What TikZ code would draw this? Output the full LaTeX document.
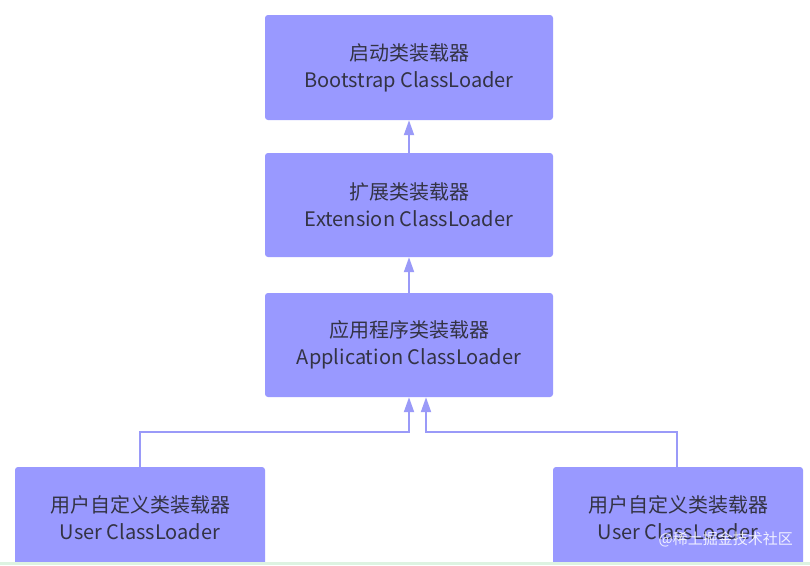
\documentclass[tikz,border=0pt]{standalone}
\usepackage{fontspec}
\setmainfont{Noto Sans CJK SC}
\usetikzlibrary{arrows.meta}
\definecolor{boxfill}{HTML}{9999FF}
\definecolor{linecol}{HTML}{9A9AF8}
\definecolor{txt}{HTML}{333344}
\definecolor{strip}{HTML}{DDF3E1}
\tikzset{
  loader/.style={draw=none, fill=boxfill, rounded corners=3pt, text=txt,
    align=center, font=\fontsize{20}{27}\selectfont, inner sep=0pt},
  looselabel/.style={text=txt, align=center, font=\fontsize{20}{27}\selectfont, inner sep=0pt},
  inherit/.style={draw=linecol, line width=2pt,
    -{Triangle[width=10pt,length=15pt,fill=linecol]}},
}
\begin{document}
\begin{tikzpicture}[x=1pt,y=-1pt]
\useasboundingbox (0,0) rectangle (810,565);
\fill[white] (0,0) rectangle (810,565);
\node[loader, minimum width=288pt, minimum height=105pt] (boot) at (409,67.5)
  {启动类装载器\\Bootstrap ClassLoader};
\node[loader, minimum width=288pt, minimum height=104pt] (ext) at (409,205)
  {扩展类装载器\\Extension ClassLoader};
\node[loader, minimum width=288pt, minimum height=104pt] (app) at (409,345)
  {应用程序类装载器\\Application ClassLoader};
\begin{scope}
\clip (0,0) rectangle (810,562);
\node[loader, minimum width=250pt, minimum height=120pt] (user1) at (140,527) {};
\node[loader, minimum width=250pt, minimum height=120pt] (user2) at (678,527) {};
\end{scope}
\node[looselabel] (u1t) at (140,518) {用户自定义类装载器\\User ClassLoader};
\node[looselabel] (u2t) at (678,518) {用户自定义类装载器\\User ClassLoader};
\node[text=white, opacity=0.85, font=\fontsize{15}{15}\selectfont, anchor=east, inner sep=0pt] (wm) at (793,539)
  {@稀土掘金技术社区};
\fill[strip] (0,562) rectangle (810,565);
\coordinate (c1) at (140,432);
\coordinate (c2) at (677,432);
\coordinate (a1) at (409,432);
\coordinate (a2) at (426,432);
\coordinate (u1top) at (140,467);
\coordinate (u2top) at (677,467);
\draw[inherit] (ext.north) -- (boot.south);
\draw[inherit] (app.north) -- (ext.south);
\draw[inherit] (u1top) -- (c1) -- (a1) -- (a1 |- app.south);
\draw[inherit] (u2top) -- (c2) -- (a2) -- (a2 |- app.south);
\end{tikzpicture}
\end{document}
